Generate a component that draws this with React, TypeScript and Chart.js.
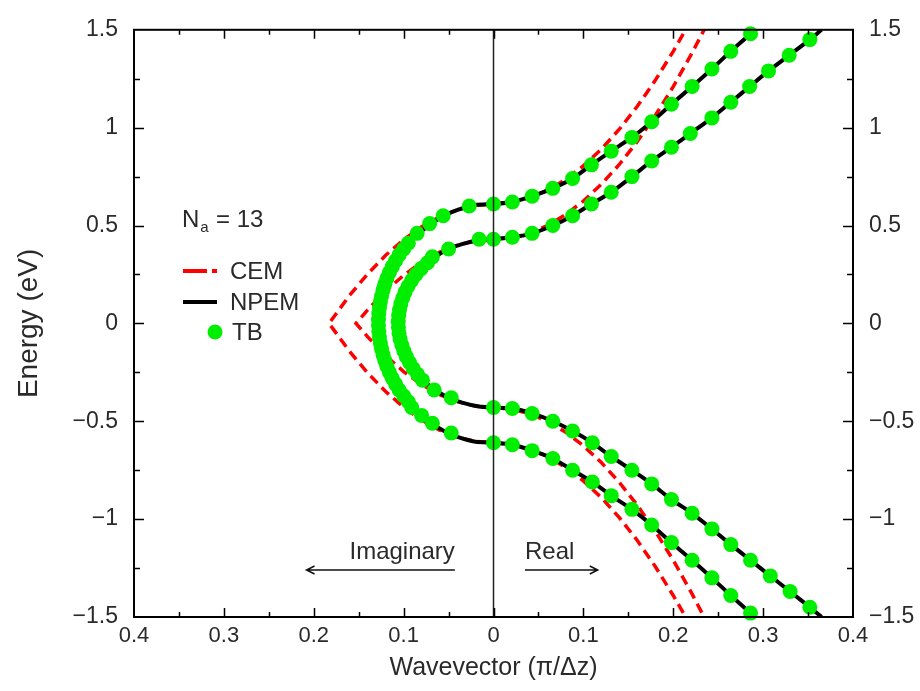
import React, { useEffect, useRef } from 'react';
import { Chart, registerables } from 'chart.js';

Chart.register(...registerables);

const FONT = '"Liberation Sans", Arial, Helvetica, sans-serif';

// Axis ranges / ticks
const xRange = [-0.4, 0.4];
const yRange = [-1.5, 1.5];
const xStep = 0.1;
const yStep = 0.5;

// NPEM – band with edges at ±0.61 eV (outer), path: lower-right -> loop (imaginary) -> upper-right
const npemOuterK = [0.29, 0.286, 0.264, 0.243, 0.221, 0.198, 0.176, 0.154, 0.131, 0.11, 0.088, 0.066, 0.043, 0.021, 0,
  -0.02, -0.04, -0.055, -0.069, -0.083, -0.094, -0.102, -0.111, -0.117, -0.122, -0.125, -0.127, -0.128,
  -0.127, -0.125, -0.122, -0.117, -0.111, -0.102, -0.094, -0.083, -0.069, -0.055, -0.04, -0.02,
  0, 0.021, 0.043, 0.066, 0.088, 0.109, 0.131, 0.154, 0.176, 0.198, 0.221, 0.243, 0.264, 0.286, 0.29];
const npemOuterE = [-1.5, -1.48, -1.39, -1.3, -1.21, -1.12, -1.03, -0.95, -0.88, -0.81, -0.75, -0.69, -0.65, -0.62, -0.61,
  -0.605, -0.58, -0.55, -0.51, -0.46, -0.41, -0.36, -0.3, -0.24, -0.18, -0.12, -0.06, 0,
  0.06, 0.12, 0.18, 0.24, 0.3, 0.36, 0.41, 0.46, 0.51, 0.55, 0.58, 0.605,
  0.61, 0.62, 0.65, 0.69, 0.74, 0.81, 0.88, 0.95, 1.03, 1.12, 1.21, 1.3, 1.39, 1.48, 1.5];

// NPEM – band with edges at ±0.43 eV (inner)
const npemInnerK = [0.365, 0.352, 0.33, 0.308, 0.286, 0.264, 0.243, 0.221, 0.198, 0.176, 0.154, 0.131, 0.11, 0.088, 0.066, 0.043, 0.021, 0,
  -0.016, -0.035, -0.05, -0.065, -0.078, -0.089, -0.098, -0.104, -0.106,
  -0.104, -0.098, -0.089, -0.078, -0.065, -0.05, -0.035, -0.016,
  0, 0.021, 0.043, 0.066, 0.088, 0.109, 0.131, 0.154, 0.176, 0.198, 0.219, 0.243, 0.264, 0.285, 0.306, 0.329, 0.352, 0.365];
const npemInnerE = [-1.5, -1.45, -1.37, -1.29, -1.21, -1.13, -1.05, -0.97, -0.9, -0.82, -0.75, -0.68, -0.61, -0.55, -0.5, -0.46, -0.435, -0.43,
  -0.425, -0.405, -0.38, -0.34, -0.29, -0.23, -0.16, -0.08, 0,
  0.08, 0.16, 0.23, 0.29, 0.34, 0.38, 0.405, 0.425,
  0.43, 0.44, 0.46, 0.5, 0.55, 0.61, 0.67, 0.75, 0.83, 0.9, 0.97, 1.05, 1.13, 1.21, 1.29, 1.37, 1.45, 1.5];

// CEM – outer band
const cemOuterK = [0.22, 0.2, 0.18, 0.16, 0.14, 0.12, 0.1, 0.08, 0.06, 0.04, 0.02, 0,
  -0.02, -0.04, -0.06, -0.08, -0.1, -0.12, -0.14, -0.16, -0.183,
  -0.16, -0.14, -0.12, -0.1, -0.08, -0.06, -0.04, -0.02,
  0, 0.02, 0.04, 0.06, 0.08, 0.1, 0.12, 0.14, 0.16, 0.18, 0.2, 0.22];
const cemOuterE = [-1.55, -1.39, -1.242, -1.109, -0.992, -0.89, -0.805, -0.735, -0.68, -0.641, -0.618, -0.61,
  -0.603, -0.581, -0.545, -0.494, -0.428, -0.348, -0.253, -0.144, 0,
  0.144, 0.253, 0.348, 0.428, 0.494, 0.545, 0.581, 0.603,
  0.61, 0.618, 0.641, 0.68, 0.735, 0.805, 0.89, 0.992, 1.109, 1.242, 1.39, 1.55];

// CEM – inner band
const cemInnerK = [0.24, 0.22, 0.2, 0.18, 0.16, 0.14, 0.12, 0.1, 0.08, 0.06, 0.04, 0.02, 0,
  -0.02, -0.04, -0.06, -0.08, -0.1, -0.12, -0.14, -0.153,
  -0.14, -0.12, -0.1, -0.08, -0.06, -0.04, -0.02,
  0, 0.02, 0.04, 0.06, 0.08, 0.1, 0.12, 0.14, 0.16, 0.18, 0.2, 0.22, 0.24];
const cemInnerE = [-1.55, -1.374, -1.21, -1.062, -0.929, -0.812, -0.711, -0.625, -0.555, -0.5, -0.461, -0.438, -0.43,
  -0.423, -0.4, -0.364, -0.312, -0.246, -0.165, -0.069, 0,
  0.069, 0.165, 0.246, 0.312, 0.364, 0.4, 0.423,
  0.43, 0.438, 0.461, 0.5, 0.555, 0.625, 0.711, 0.812, 0.929, 1.062, 1.21, 1.374, 1.55];

// TB points – outer band
const tbOuterK = [0.286, 0.264, 0.243, 0.221, 0.198, 0.176, 0.154, 0.131, 0.11, 0.088, 0.066, 0.043, 0.021, 0,
  -0.047, -0.068, -0.08, -0.091,
  -0.0948, -0.1, -0.105, -0.109, -0.1126, -0.1158, -0.1186, -0.121, -0.1229, -0.1246, -0.1259, -0.1269, -0.1276, -0.128,
  -0.128, -0.1276, -0.1269, -0.1259, -0.1246, -0.1229, -0.121, -0.1186, -0.1158, -0.1126, -0.109, -0.105, -0.1, -0.0948,
  -0.085, -0.071, -0.056, -0.027,
  0, 0.021, 0.043, 0.066, 0.088, 0.109, 0.131, 0.154, 0.176, 0.198, 0.221, 0.243, 0.264, 0.286];
const tbOuterE = [-1.48, -1.39, -1.3, -1.21, -1.12, -1.03, -0.95, -0.88, -0.81, -0.75, -0.69, -0.65, -0.62, -0.61,
  -0.56, -0.51, -0.47, -0.43,
  -0.4, -0.37, -0.34, -0.31, -0.28, -0.25, -0.22, -0.19, -0.16, -0.13, -0.1, -0.07, -0.04, -0.01,
  0.02, 0.05, 0.08, 0.11, 0.14, 0.17, 0.2, 0.23, 0.26, 0.29, 0.32, 0.35, 0.38, 0.41,
  0.46, 0.51, 0.55, 0.6,
  0.61, 0.62, 0.65, 0.69, 0.74, 0.81, 0.88, 0.95, 1.03, 1.12, 1.21, 1.3, 1.39, 1.48];

// TB points – inner band
const tbInnerK = [0.352, 0.33, 0.308, 0.286, 0.264, 0.243, 0.221, 0.198, 0.176, 0.154, 0.131, 0.11, 0.088, 0.066, 0.043, 0.021, 0,
  -0.047, -0.066, -0.079,
  -0.0845, -0.0895, -0.0935, -0.097, -0.0998, -0.102, -0.1039, -0.1051, -0.1058, -0.106,
  -0.1055, -0.1046, -0.1031, -0.101, -0.0984, -0.0951, -0.091, -0.0862, -0.0804, -0.0734,
  -0.068, -0.05, -0.016,
  0, 0.021, 0.043, 0.066, 0.088, 0.109, 0.131, 0.154, 0.176, 0.198, 0.219, 0.243, 0.264, 0.285, 0.306, 0.329, 0.352];
const tbInnerE = [-1.45, -1.37, -1.29, -1.21, -1.13, -1.05, -0.97, -0.9, -0.82, -0.75, -0.68, -0.61, -0.55, -0.5, -0.46, -0.435, -0.43,
  -0.38, -0.34, -0.29,
  -0.26, -0.23, -0.2, -0.17, -0.14, -0.11, -0.08, -0.05, -0.02, 0.01,
  0.04, 0.07, 0.1, 0.13, 0.16, 0.19, 0.22, 0.25, 0.28, 0.31,
  0.34, 0.38, 0.43,
  0.43, 0.44, 0.46, 0.5, 0.55, 0.61, 0.67, 0.75, 0.83, 0.9, 0.97, 1.05, 1.13, 1.21, 1.29, 1.37, 1.45];

const RED = '#ff0000';
const GREEN = '#00ee00';
const TEXT = '#2a2a2a';

function pts(k: number[], e: number[]) {
  return k.map((x, i) => ({ x, y: e[i] }));
}

const fmtY = (v: number) => {
  const r = Math.round(v * 10) / 10;
  return r < 0 ? '\u2212' + String(Math.abs(r)) : String(r);
};
const fmtX = (v: number) => String(Math.abs(Math.round(v * 10) / 10));

const decor = {
  id: 'decor',
  afterDatasetsDraw(chart: any) {
    const { ctx, chartArea: a, scales } = chart;
    const xs = scales.x;
    const ys = scales.y;
    ctx.save();
    // zero line
    const x0 = xs.getPixelForValue(0);
    ctx.strokeStyle = '#222';
    ctx.lineWidth = 1.5;
    ctx.beginPath();
    ctx.moveTo(x0, a.top);
    ctx.lineTo(x0, a.bottom);
    ctx.stroke();
    // frame
    ctx.strokeStyle = '#000';
    ctx.lineWidth = 2;
    ctx.strokeRect(a.left, a.top, a.right - a.left, a.bottom - a.top);
    // inward ticks
    ctx.lineWidth = 1.5;
    ctx.beginPath();
    const nx = Math.round((xRange[1] - xRange[0]) / (xStep / 2));
    for (let i = 1; i < nx; i++) {
      const v = xRange[0] + (i * xStep) / 2;
      const p = Math.round(xs.getPixelForValue(v)) + 0.5;
      const L = i % 2 === 0 ? 9 : 5;
      ctx.moveTo(p, a.bottom);
      ctx.lineTo(p, a.bottom - L);
      ctx.moveTo(p, a.top);
      ctx.lineTo(p, a.top + L);
    }
    const ny = Math.round((yRange[1] - yRange[0]) / (yStep / 2));
    for (let i = 1; i < ny; i++) {
      const v = yRange[0] + (i * yStep) / 2;
      const p = Math.round(ys.getPixelForValue(v)) + 0.5;
      const L = i % 2 === 0 ? 10 : 6;
      ctx.moveTo(a.left, p);
      ctx.lineTo(a.left + L, p);
      ctx.moveTo(a.right, p);
      ctx.lineTo(a.right - L, p);
    }
    ctx.stroke();

    // annotations: N_a = 13
    ctx.fillStyle = TEXT;
    ctx.textBaseline = 'middle';
    ctx.textAlign = 'left';
    ctx.font = `24px ${FONT}`;
    ctx.fillText('N', 182, 220);
    const wN = ctx.measureText('N').width;
    ctx.font = `15px ${FONT}`;
    ctx.fillText('a', 182 + wN + 1, 228);
    ctx.font = `24px ${FONT}`;
    ctx.fillText('= 13', 216, 220);

    // legend
    ctx.lineCap = 'butt';
    ctx.strokeStyle = RED;
    ctx.lineWidth = 4;
    ctx.beginPath();
    ctx.moveTo(183, 271);
    ctx.lineTo(207, 271);
    ctx.moveTo(212, 271);
    ctx.lineTo(217, 271);
    ctx.stroke();
    ctx.strokeStyle = '#000';
    ctx.beginPath();
    ctx.moveTo(183, 302);
    ctx.lineTo(217, 302);
    ctx.stroke();
    ctx.fillStyle = GREEN;
    ctx.beginPath();
    ctx.arc(215, 332, 7.5, 0, Math.PI * 2);
    ctx.fill();
    ctx.fillStyle = TEXT;
    ctx.fillText('CEM', 230, 272);
    ctx.fillText('NPEM', 230, 303);
    ctx.fillText('TB', 232, 333);

    // Imaginary / Real arrows
    const ay = ys.getPixelForValue(-1.26);
    const ty = ys.getPixelForValue(-1.17);
    const iL = xs.getPixelForValue(-0.208);
    const iR = xs.getPixelForValue(-0.043);
    const rL = xs.getPixelForValue(0.035);
    const rR = xs.getPixelForValue(0.116);
    ctx.strokeStyle = '#111';
    ctx.lineWidth = 1.5;
    ctx.beginPath();
    ctx.moveTo(iR, ay);
    ctx.lineTo(iL, ay);
    ctx.moveTo(iL + 8, ay - 4);
    ctx.lineTo(iL, ay);
    ctx.lineTo(iL + 8, ay + 4);
    ctx.moveTo(rL, ay);
    ctx.lineTo(rR, ay);
    ctx.moveTo(rR - 8, ay - 4);
    ctx.lineTo(rR, ay);
    ctx.lineTo(rR - 8, ay + 4);
    ctx.stroke();
    ctx.fillStyle = TEXT;
    ctx.textAlign = 'right';
    ctx.fillText('Imaginary', iR, ty);
    ctx.textAlign = 'left';
    ctx.fillText('Real', rL, ty);
    ctx.restore();
  },
};

export default function App() {
  const ref = useRef<HTMLCanvasElement | null>(null);
  useEffect(() => {
    document.body.style.margin = '0';
    if (!ref.current) return;
    const tickFontY = { family: FONT, size: 23 };
    const tickFontX = { family: FONT, size: 22 };
    const chart = new Chart(ref.current, {
      type: 'scatter',
      data: {
        datasets: [
          { label: 'CEM', data: pts(cemOuterK, cemOuterE), showLine: true, borderColor: RED, borderWidth: 3.5, borderDash: [10, 6], pointRadius: 0, tension: 0, order: 3 } as any,
          { label: 'CEM inner', data: pts(cemInnerK, cemInnerE), showLine: true, borderColor: RED, borderWidth: 3.5, borderDash: [10, 6], pointRadius: 0, tension: 0, order: 3 } as any,
          { label: 'NPEM', data: pts(npemOuterK, npemOuterE), showLine: true, borderColor: '#000', borderWidth: 4, pointRadius: 0, tension: 0.2, order: 2 } as any,
          { label: 'NPEM inner', data: pts(npemInnerK, npemInnerE), showLine: true, borderColor: '#000', borderWidth: 4, pointRadius: 0, tension: 0.2, order: 2 } as any,
          { label: 'TB', data: pts(tbOuterK, tbOuterE).concat(pts(tbInnerK, tbInnerE)), showLine: false, pointRadius: 7.5, pointBackgroundColor: GREEN, pointBorderWidth: 0, pointBorderColor: GREEN, clip: false, order: 1 } as any,
        ],
      },
      options: {
        animation: false,
        responsive: true,
        maintainAspectRatio: false,
        layout: { padding: { top: 21, left: 0, right: 0, bottom: 0 } },
        plugins: { legend: { display: false }, tooltip: { enabled: false } },
        scales: {
          x: {
            type: 'linear', position: 'bottom', min: xRange[0], max: xRange[1],
            grid: { display: false, drawTicks: false }, border: { display: false },
            ticks: { stepSize: xStep, padding: 6, font: tickFontX, color: TEXT, callback: (v: any) => fmtX(Number(v)) },
            title: { display: true, text: 'Wavevector (\u03c0/\u0394z)', font: { family: FONT, size: 25 }, color: TEXT, padding: { top: 0, bottom: 8 } },
            afterFit: (s: any) => { s.height = 74; },
          },
          y: {
            type: 'linear', position: 'left', min: yRange[0], max: yRange[1],
            grid: { display: false, drawTicks: false }, border: { display: false },
            ticks: { stepSize: yStep, padding: 16, font: tickFontY, color: TEXT, callback: (v: any) => fmtY(Number(v)) },
            title: { display: true, text: 'Energy (eV)', font: { family: FONT, size: 28 }, color: TEXT, padding: { top: 12, bottom: 0 } },
            afterFit: (s: any) => { s.width = 134; },
          },
          y2: {
            type: 'linear', position: 'right', min: yRange[0], max: yRange[1],
            grid: { display: false, drawTicks: false }, border: { display: false },
            ticks: { stepSize: yStep, padding: 16, font: tickFontY, color: TEXT, callback: (v: any) => fmtY(Number(v)) },
            afterFit: (s: any) => { s.width = 67; },
          },
        },
      } as any,
      plugins: [decor],
    });
    return () => chart.destroy();
  }, []);
  return (
    <div style={{ position: 'absolute', left: 0, top: 0, width: 920, height: 691 }}>
      <canvas ref={ref} />
    </div>
  );
}
